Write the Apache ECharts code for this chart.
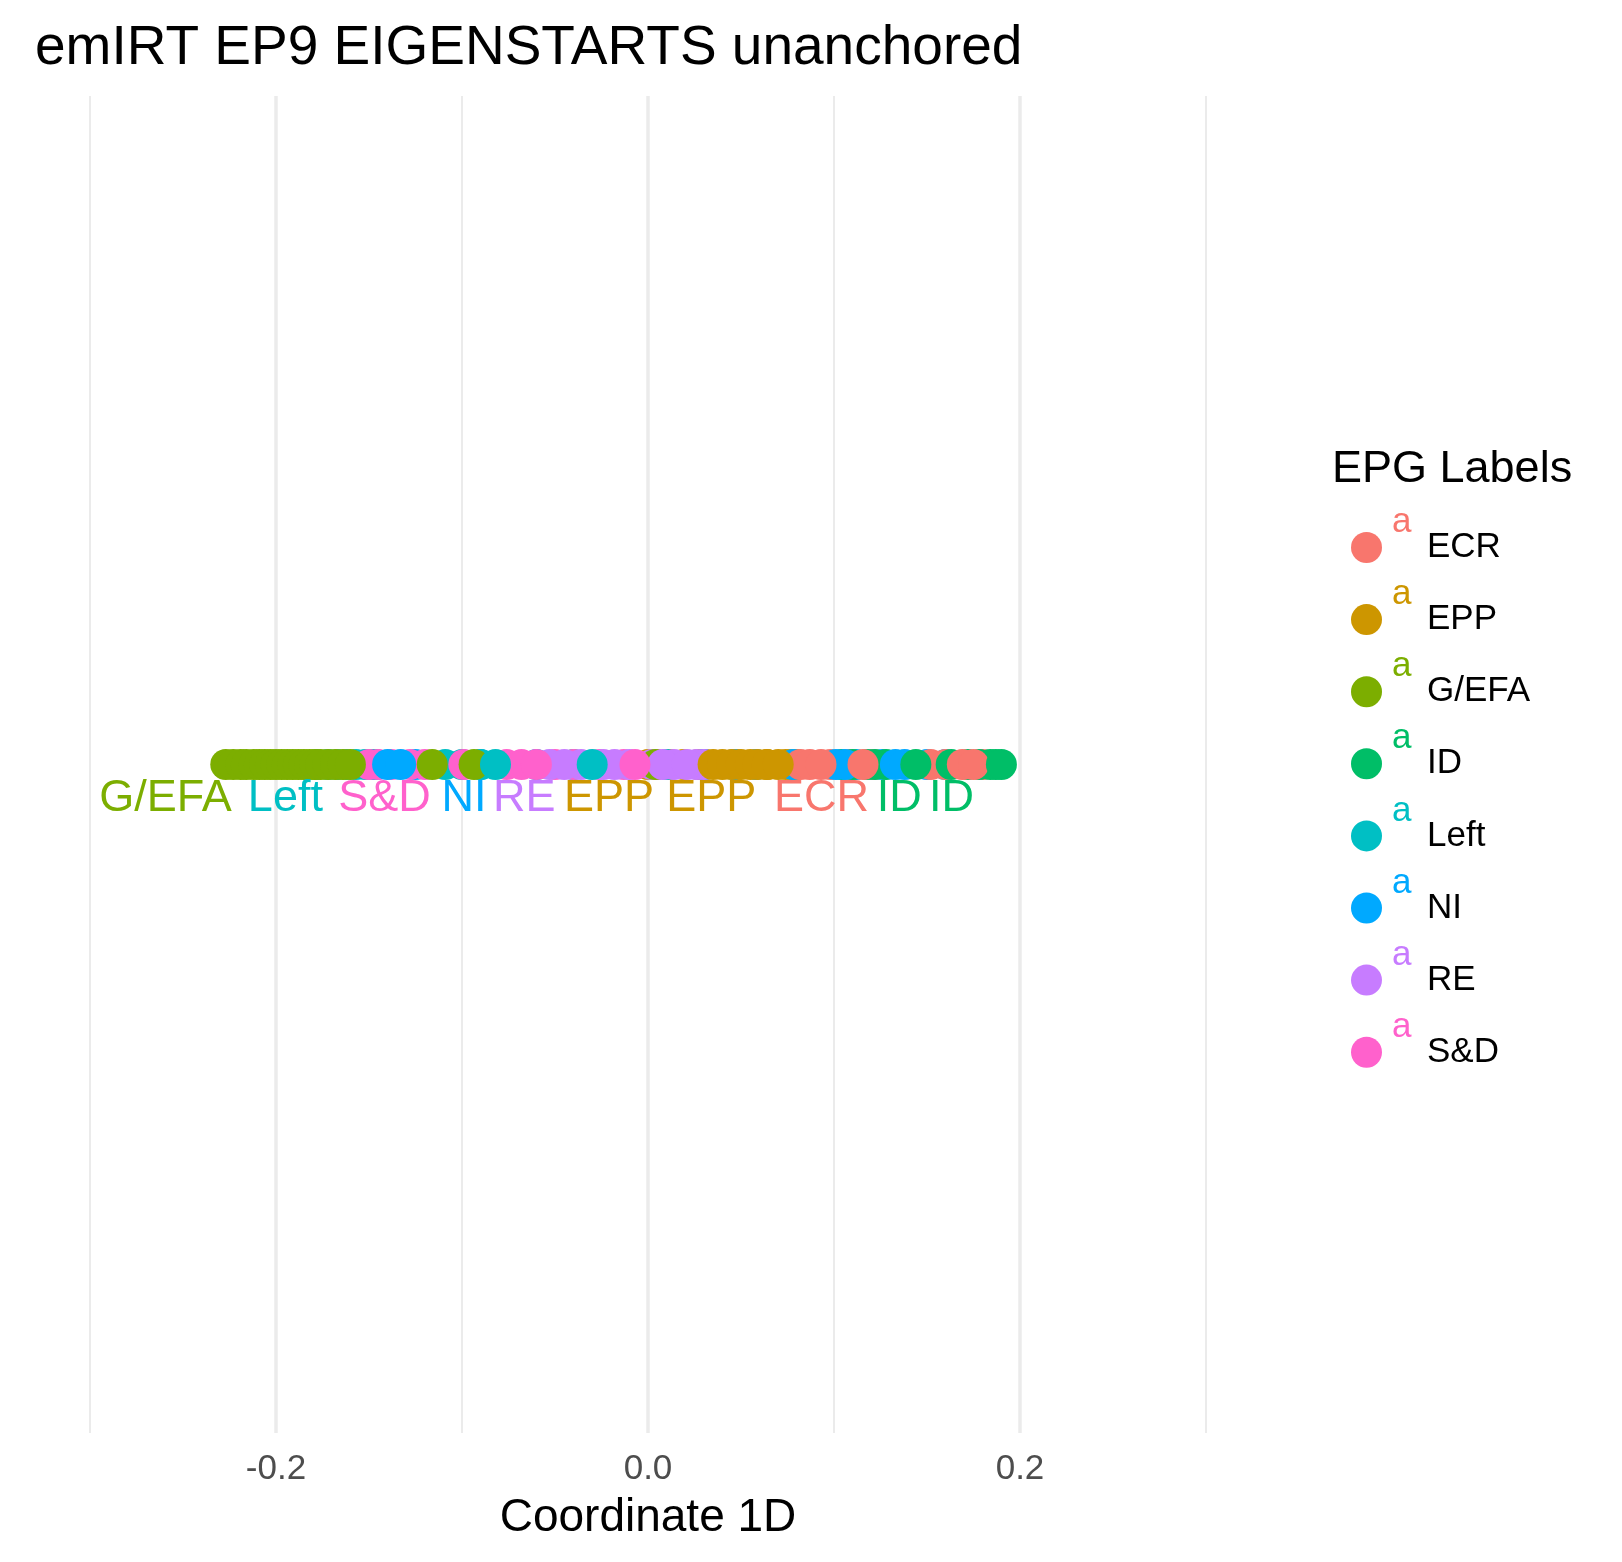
<!DOCTYPE html>
<html>
<head>
<meta charset="utf-8">
<script src="https://cdn.jsdelivr.net/npm/echarts@6/dist/echarts.min.js"></script>
<style>
html,body{margin:0;padding:0;background:#ffffff;}
#chart{width:1622px;height:1562px;}
</style>
</head>
<body>
<div id="chart"></div>
<script>
// ---- categories ----
const groups = ['ECR', 'EPP', 'G/EFA', 'ID', 'Left', 'NI', 'RE', 'S&D'];

// ---- point values (Coordinate 1D), back layer ----
const eppBack  = [0.000, 0.012, 0.019, 0.027, 0.031, 0.048, 0.064, 0.074, 0.077, 0.080];
const niBack   = [-0.146, -0.125, -0.090, -0.060, 0.030, 0.046, 0.058, 0.078, 0.112, 0.126, 0.150, 0.160];
const leftBack = [-0.178, -0.172, -0.167, -0.162, -0.157, -0.152, -0.148, -0.109, -0.100, -0.090, -0.040, 0.010];
const sdBack   = [-0.150, -0.145, -0.138, -0.128, -0.120, -0.099, -0.076, -0.050, -0.040, -0.026, -0.013, 0.005];
const reBack   = [-0.053, -0.036, -0.024, -0.010, 0.002, 0.014, 0.026, 0.030];
const ecrBack  = [0.082, 0.098, 0.108, 0.121, 0.152, 0.160, 0.180];
const idBack   = [0.104, 0.110, 0.118, 0.122, 0.128, 0.163, 0.172, 0.178, 0.184, 0.187];
const gefaBack = [-0.227, -0.223, -0.219, -0.216, -0.212, -0.209, -0.206, -0.203, -0.200, -0.197,
                  -0.194, -0.191, -0.188, -0.185, -0.182, -0.179, -0.176, -0.172, -0.168, -0.164,
                  -0.160, -0.116, -0.0935, 0.004];

// ---- point values, front layer ----
const niFront   = [-0.140, -0.133, 0.101, 0.106, 0.133, 0.138];
const reFront   = [-0.045, -0.018, 0.008, 0.021];
const sdFront   = [-0.068, -0.060, -0.007];
const eppFront  = [0.035, 0.040, 0.045, 0.050, 0.055, 0.059, 0.064, 0.070];
const leftFront = [-0.082, -0.030];
const ecrFront  = [0.087, 0.093, 0.1156, 0.169, 0.175];
const idFront   = [0.144, 0.190];

// ---- text labels under the strip ----
const labelTexts = ['G/EFA', 'Left', 'S&D', 'NI', 'RE', 'EPP', 'EPP', 'ECR', 'ID', 'ID'];
const labelX     = [-0.227, -0.178, -0.120, -0.090, -0.053, 0.000, 0.055, 0.1156, 0.144, 0.172];

// ---- axis ticks ----
const majorTicks = [-0.2, 0.0, 0.2];

// ---- styles ----
const groupColors = {
  'ECR': '#F8766D', 'EPP': '#CD9600', 'G/EFA': '#7CAE00', 'ID': '#00BE67',
  'Left': '#00BFC4', 'NI': '#00A9FF', 'RE': '#C77CFF', 'S&D': '#FF61CC'
};
const FONT = '"Liberation Sans", Arial, Helvetica, sans-serif';

const layers = [
  ['EPP', eppBack], ['NI', niBack], ['Left', leftBack], ['S&D', sdBack],
  ['RE', reBack], ['ECR', ecrBack], ['ID', idBack], ['G/EFA', gefaBack],
  ['NI', niFront], ['RE', reFront], ['S&D', sdFront], ['EPP', eppFront],
  ['Left', leftFront], ['ECR', ecrFront], ['ID', idFront]
];

const series = [];
// major gridlines (drawn beneath points)
series.push({
  type: 'scatter', name: '__grid', data: [], z: 0, silent: true,
  markLine: {
    z: 0, silent: true, symbol: ['none', 'none'], animation: false,
    label: { show: false },
    lineStyle: { color: '#EBEBEB', width: 3.5, type: 'solid' },
    emphasis: { disabled: true },
    data: majorTicks.map(v => ({ xAxis: v }))
  }
});
layers.forEach(([g, vals]) => {
  series.push({
    type: 'scatter', name: g, z: 2,
    symbol: 'circle', symbolSize: 31,
    itemStyle: { color: groupColors[g], opacity: 1 },
    emphasis: { disabled: true },
    data: vals.map(v => [v, 0])
  });
});
series.push({
  type: 'scatter', name: '__labels', z: 3, silent: true,
  symbolSize: 0.01,
  itemStyle: { color: 'rgba(0,0,0,0)' },
  emphasis: { disabled: true },
  label: {
    show: true, position: [6, 34], align: 'right', verticalAlign: 'middle',
    fontSize: 45, fontFamily: FONT, opacity: 1,
    textBorderWidth: 0, textShadowBlur: 0,
    formatter: p => p.name
  },
  data: labelX.map((v, i) => ({
    value: [v, 0], name: labelTexts[i],
    label: { color: groupColors[labelTexts[i]] }
  }))
});

const rich = {
  t: { color: '#000000', fontSize: 35, lineHeight: 40, padding: [0, 0, 0, 40], fontFamily: FONT },
  e: { fontSize: 10, lineHeight: 10 }
};
groups.forEach((g, i) => {
  rich['a' + i] = { color: groupColors[g], fontSize: 35, lineHeight: 10, padding: [0, 0, 0, 5], fontFamily: FONT };
});

const chart = echarts.init(document.getElementById('chart'), null, { renderer: 'canvas' });
chart.setOption({
  animation: false,
  backgroundColor: '#ffffff',
  textStyle: { fontFamily: FONT },
  title: [
    { text: 'emIRT EP9 EIGENSTARTS unanchored', left: 30, top: 16,
      textStyle: { fontSize: 55, fontWeight: 'normal', color: '#000000', fontFamily: FONT } },
    { text: 'EPG Labels', left: 1327, top: 442,
      textStyle: { fontSize: 45, fontWeight: 'normal', color: '#000000', fontFamily: FONT } }
  ],
  legend: {
    data: groups, orient: 'vertical', left: 1351, top: 505, padding: 0,
    itemGap: -0.4, itemWidth: 31, itemHeight: 31, icon: 'circle',
    selectedMode: false,
    formatter: name => '{a' + groups.indexOf(name) + '|a}\n{t|' + name + '}\n{e| }',
    textStyle: { rich: rich }
  },
  grid: { left: 90, right: 416, top: 96, bottom: 129, containLabel: false },
  xAxis: {
    type: 'value', min: -0.3, max: 0.3, interval: 0.1,
    axisLine: { show: false }, axisTick: { show: false },
    axisLabel: {
      color: '#4D4D4D', fontSize: 35, margin: 19, fontFamily: FONT,
      formatter: v => {
        const k = Math.round(v * 10);
        if (k % 2 !== 0) return '';
        return (k / 10).toFixed(1);
      }
    },
    splitLine: { show: true, lineStyle: { color: '#EBEBEB', width: 2 } },
    name: 'Coordinate 1D', nameLocation: 'middle', nameGap: 62,
    nameTextStyle: { fontSize: 46, color: '#000000', fontFamily: FONT }
  },
  yAxis: { type: 'value', min: -1, max: 1, show: false },
  series: series
});
</script>
</body>
</html>
